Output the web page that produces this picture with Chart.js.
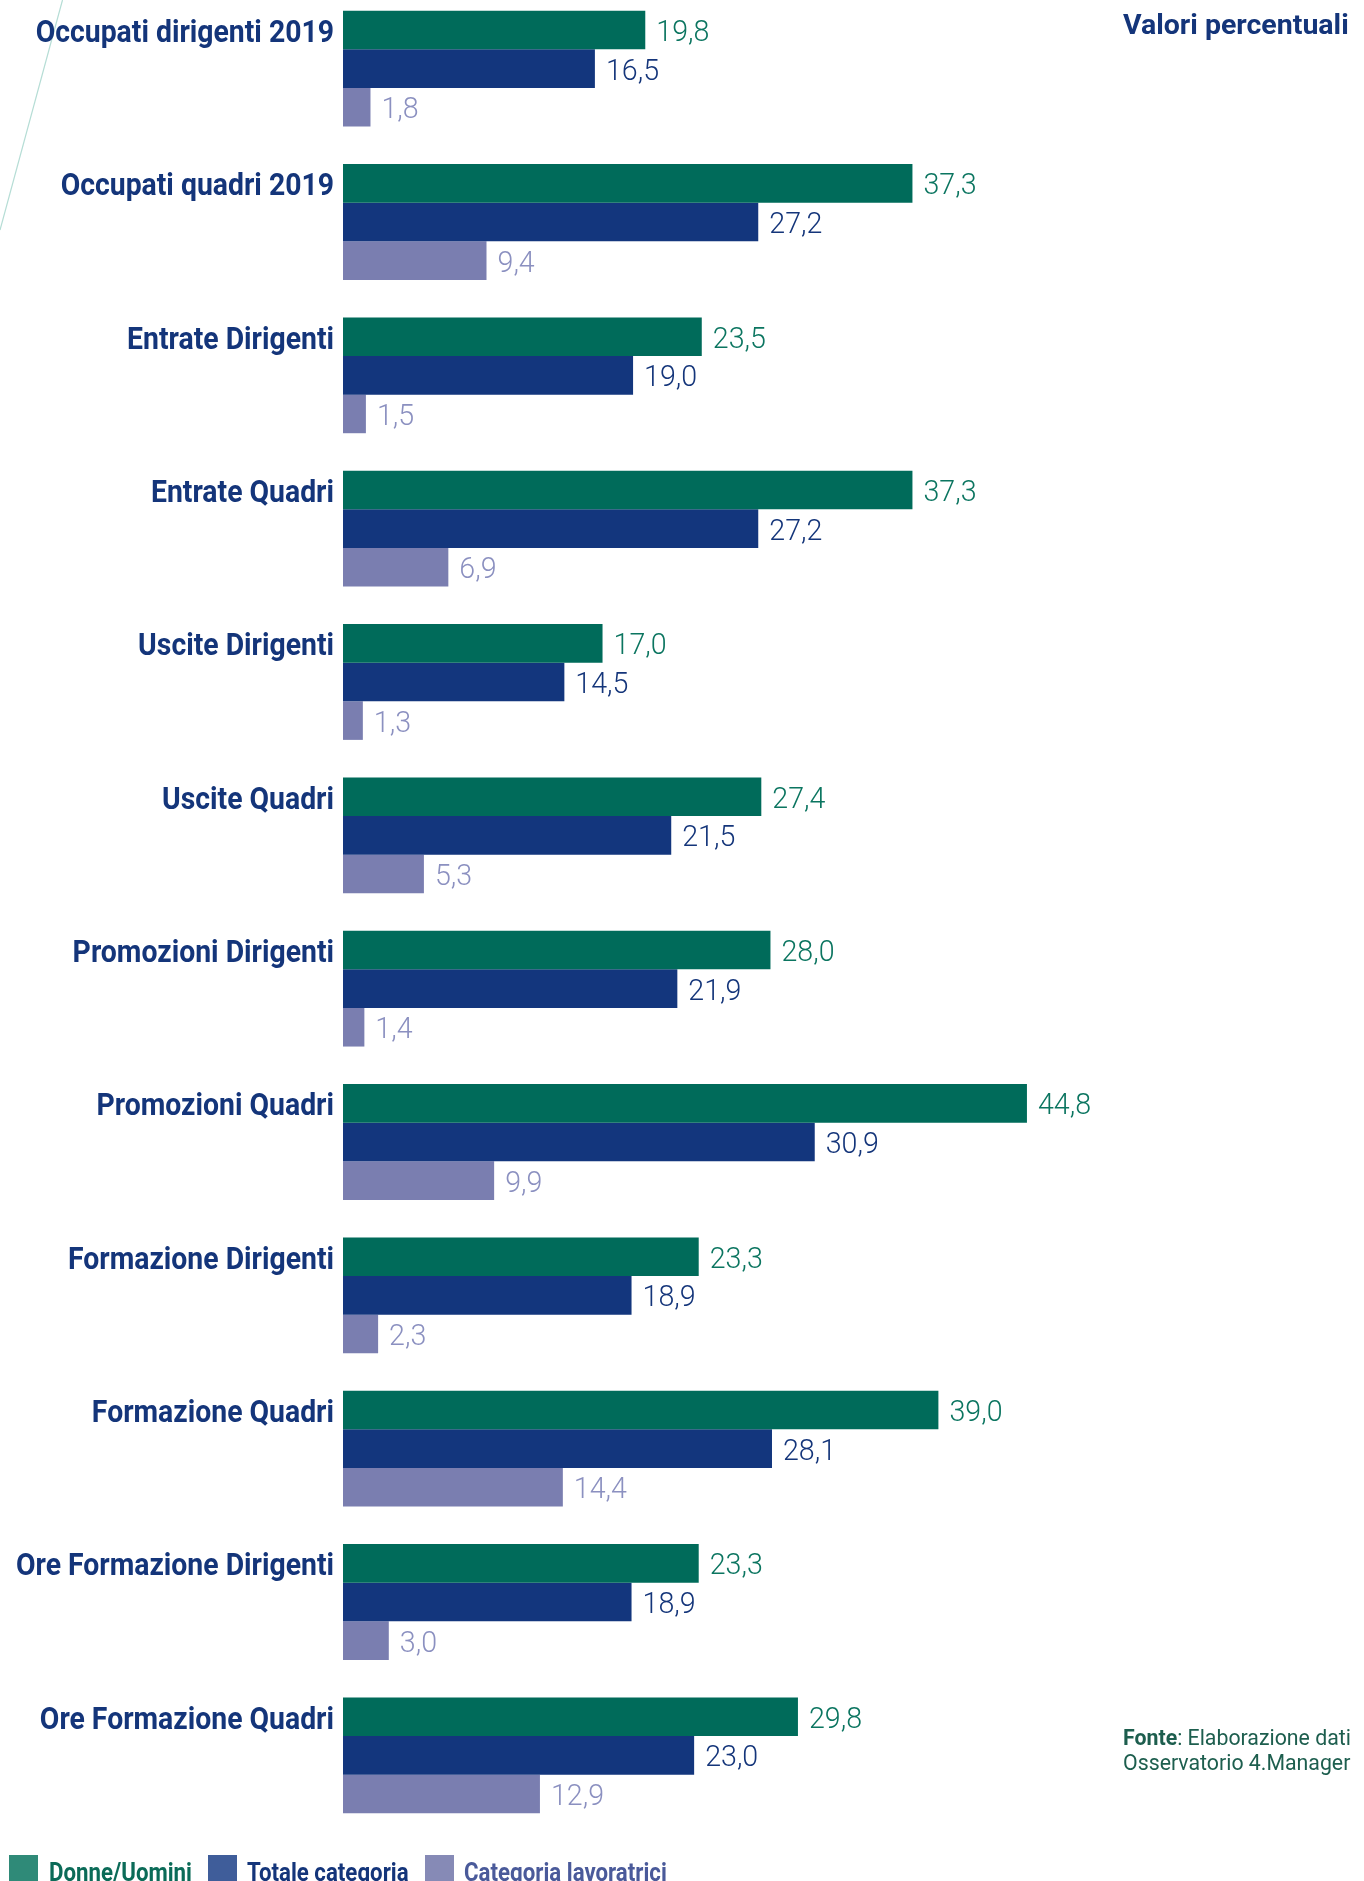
<!DOCTYPE html>
<html>
<head>
<meta charset="utf-8">
<script src="https://cdn.jsdelivr.net/npm/chart.js@4.4.1/dist/chart.umd.min.js"></script>
<style>
  html, body { margin: 0; padding: 0; background: #fff; }
  body { width: 1364px; height: 1881px; overflow: hidden; position: relative; font-family: Roboto, sans-serif; }
  #wrap { position: absolute; left: 0; top: -8px; width: 1364px; height: 1889px; }
  #deco { position: absolute; left: 0; top: 0; }
  .unit { position: absolute; left: 1123px; top: 11px; font: bold 28.5px Roboto; line-height: 28px; color: #14357a; white-space: nowrap; }
  .source { position: absolute; left: 1123px; top: 1725px; font: 21.3px Roboto; color: #1d5e4e; line-height: 25px; white-space: nowrap; }
  .source b { font-weight: bold; }
  .legend { position: absolute; top: 1855px; left: 0; height: 30px; }
  .legend .sq { position: absolute; top: 0; width: 29px; height: 30px; }
  .legend .txt { position: absolute; top: 3px; font: bold 25px Roboto; white-space: nowrap; transform: scaleX(0.89); transform-origin: left top; }
</style>
</head>
<body>
<svg id="deco" width="80" height="240"><line x1="62.5" y1="0" x2="0" y2="230" stroke="#b5ddd5" stroke-width="1.2"/></svg>
<div id="wrap"><canvas id="barChart" width="1364" height="1889"></canvas></div>
<div class="unit">Valori percentuali</div>
<div class="source"><b>Fonte</b>: Elaborazione dati<br>Osservatorio 4.Manager</div>
<div class="legend">
  <div class="sq" style="left:9px;background:#2f8a78"></div>
  <div class="txt" style="left:49px;color:#0b6b58">Donne/Uomini</div>
  <div class="sq" style="left:208px;background:#3f5d9a"></div>
  <div class="txt" style="left:247px;color:#14357a">Totale categoria</div>
  <div class="sq" style="left:425px;background:#868ab6"></div>
  <div class="txt" style="left:464px;color:#4a5a9a">Categoria lavoratrici</div>
</div>
<script>
const categories = [
    'Occupati dirigenti 2019',
    'Occupati quadri 2019',
    'Entrate Dirigenti',
    'Entrate Quadri',
    'Uscite Dirigenti',
    'Uscite Quadri',
    'Promozioni Dirigenti',
    'Promozioni Quadri',
    'Formazione Dirigenti',
    'Formazione Quadri',
    'Ore Formazione Dirigenti',
    'Ore Formazione Quadri'
];
const seriesNames = ['Donne/Uomini', 'Totale categoria', 'Categoria lavoratrici'];

const donneUomini = [19.8, 37.3, 23.5, 37.3, 17.0, 27.4, 28.0, 44.8, 23.3, 39.0, 23.3, 29.8];
const totaleCategoria = [16.5, 27.2, 19.0, 27.2, 14.5, 21.5, 21.9, 30.9, 18.9, 28.1, 18.9, 23.0];
const categoriaLavoratrici = [1.8, 9.4, 1.5, 6.9, 1.3, 5.3, 1.4, 9.9, 2.3, 14.4, 3.0, 12.9];

const barColors = ['#006b5a', '#13367d', '#7a7eb0'];
const valueColors = ['#0b7560', '#14357a', '#8b90c0'];

// value at the end of each bar, Italian decimal comma
const valueLabels = {
    id: 'valueLabels',
    afterDatasetsDraw(chart) {
        const ctx = chart.ctx;
        ctx.save();
        ctx.font = '300 29.5px Roboto';
        ctx.textBaseline = 'alphabetic';
        ctx.textAlign = 'left';
        chart.data.datasets.forEach((ds, di) => {
            const meta = chart.getDatasetMeta(di);
            ctx.fillStyle = valueColors[di];
            meta.data.forEach((bar, i) => {
                const txt = ds.data[i].toFixed(1).replace('.', ',');
                ctx.save();
                ctx.translate(bar.x + 11, bar.y + 11);
                ctx.scale(0.97, 1);
                ctx.fillText(txt, 0, 0);
                ctx.restore();
            });
        });
        ctx.restore();
    }
};

// category names, right aligned next to the first bar of each group
const categoryLabels = {
    id: 'categoryLabels',
    afterDraw(chart) {
        const ctx = chart.ctx;
        const meta = chart.getDatasetMeta(0);
        const right = chart.chartArea.left - 9;
        ctx.save();
        ctx.font = 'bold 31px Roboto';
        ctx.fillStyle = '#14357a';
        ctx.textBaseline = 'alphabetic';
        ctx.textAlign = 'right';
        chart.data.labels.forEach((lab, i) => {
            ctx.save();
            ctx.translate(right, meta.data[i].y + 12);
            ctx.scale(0.915, 1);
            ctx.fillText(lab, 0, 0);
            ctx.restore();
        });
        ctx.restore();
    }
};

const ctx = document.getElementById('barChart').getContext('2d');

const data = {
    labels: categories,
    datasets: [donneUomini, totaleCategoria, categoriaLavoratrici].map((values, i) => ({
        label: seriesNames[i],
        data: values,
        backgroundColor: barColors[i],
        borderWidth: 0,
        barPercentage: 1,
        categoryPercentage: 0.755
    }))
};

const config = {
    type: 'bar',
    data: data,
    options: {
        indexAxis: 'y',
        responsive: false,
        maintainAspectRatio: false,
        animation: false,
        layout: {
            padding: { left: 343, right: 105, top: 0, bottom: 49 }
        },
        scales: {
            x: { display: false, min: 0, max: 60 },
            y: { display: false }
        },
        plugins: {
            legend: { display: false },
            tooltip: { enabled: false }
        }
    },
    plugins: [valueLabels, categoryLabels]
};

const myChart = new Chart(ctx, config);
</script>
</body>
</html>
